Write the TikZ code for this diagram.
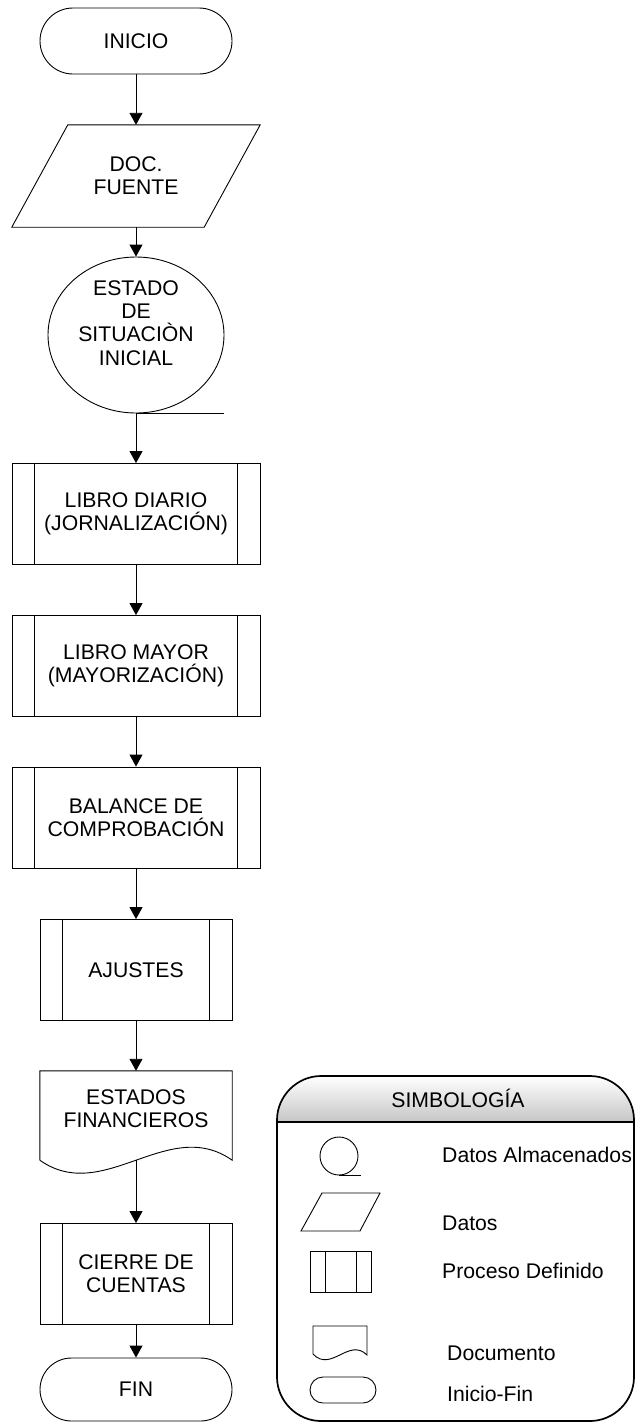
\documentclass[tikz,border=0pt]{standalone}
\usepackage{fontspec}
\setmainfont{Liberation Sans}
\usetikzlibrary{arrows.meta,shapes.geometric,shapes.misc}
\newcommand\procbars[2]{%
  \draw[ln] ([xshift=#2]#1.north west) -- ([xshift=#2]#1.south west);
  \draw[ln] ([xshift=-#2]#1.north east) -- ([xshift=-#2]#1.south east);}
\begin{document}
\begin{tikzpicture}[x=1pt,y=-1pt,
  every node/.style={font=\fontsize{21.2}{23.3}\selectfont, align=center, inner sep=0pt},
  ln/.style={line width=0.9pt},
  arr/.style={ln, -{Triangle[width=13pt,length=12pt]}},
  term/.style={ln, draw, rounded rectangle, minimum width=192pt, minimum height=66pt},
  area/.style={minimum width=#1},
  proc/.style={ln, draw, rectangle, minimum width=#1, minimum height=101pt},
  legtext/.style={anchor=west}
]
\useasboundingbox (0,0) rectangle (635,1422);

% ---- flow ----
\node[term] (inicio) at (136,41) {INICIO};

\node[area=248pt, minimum height=102pt] (doc) at (136,176) {DOC.\\FUENTE};
\draw[ln] (doc.south west) -- ([xshift=56pt]doc.north west) -- (doc.north east)
  -- ([xshift=-56pt]doc.south east) -- cycle;

\node[ln, draw, ellipse, minimum width=176pt, minimum height=156pt] (sit) at (136,335) {};
\node (sittext) at (136,323) {ESTADO\\DE\\SITUACIÒN\\INICIAL};
\coordinate (sittail) at ([xshift=88pt]sit.south);
\draw[ln] (sit.south) -- (sittail);

\node[proc=248pt] (diario) at (136,514) {LIBRO DIARIO\\(JORNALIZACIÓN)};
\procbars{diario}{23pt}
\node[proc=248pt] (mayor) at (136,666) {LIBRO MAYOR\\(MAYORIZACIÓN)};
\procbars{mayor}{23pt}
\node[proc=248pt] (balance) at (136,817.5) {BALANCE DE\\COMPROBACIÓN};
\procbars{balance}{23pt}
\node[proc=192pt] (ajustes) at (136,970) {AJUSTES};
\procbars{ajustes}{23pt}

\node[area=192pt, minimum height=76pt] (estados) at (136,1109) {ESTADOS\\FINANCIEROS};
\coordinate (estb) at ([yshift=-13pt]estados.south);
\draw[ln] ([yshift=-13pt]estados.south west) -- (estados.north west) -- (estados.north east)
  -- ([yshift=-13pt]estados.south east)
  .. controls +(-64,-45) and +(64,45) .. ([yshift=-13pt]estados.south west);

\node[proc=192pt] (cierre) at (136,1274) {CIERRE DE\\CUENTAS};
\procbars{cierre}{23pt}

\node[term, minimum height=63pt] (fin) at (136,1389.5) {FIN};

\draw[arr] (inicio.south) -- (doc.north);
\draw[arr] (doc.south) -- (sit.north);
\draw[arr] (sit.south) -- (diario.north);
\draw[arr] (diario.south) -- (mayor.north);
\draw[arr] (mayor.south) -- (balance.north);
\draw[arr] (balance.south) -- (ajustes.north);
\draw[arr] (ajustes.south) -- (estados.north);
\draw[arr] (estb) -- (cierre.north);
\draw[arr] (cierre.south) -- (fin.north);

% ---- legend ----
\shade[top color=white, bottom color=gray!45]
  (277,1122) -- (277,1120) .. controls (277,1096) and (297,1076) .. (321,1076)
  -- (590,1076) .. controls (614,1076) and (634,1096) .. (634,1120) -- (634,1122) -- cycle;
\draw[line width=1.5pt] (277,1122) -- (634,1122);
\draw[line width=1.7pt]
  (277,1120) .. controls (277,1096) and (297,1076) .. (321,1076)
  -- (590,1076) .. controls (614,1076) and (634,1096) .. (634,1120)
  -- (634,1377) .. controls (634,1401) and (614,1421) .. (590,1421)
  -- (321,1421) .. controls (297,1421) and (277,1401) .. (277,1377) -- cycle;
\node (simb) at (458,1098) {SIMBOLOGÍA};

\draw[ln] (339,1156) circle[radius=19pt];
\draw[ln] (339,1175) -- (361,1175);
\node[legtext] (lg1) at (442,1155) {Datos Almacenados};

\draw[ln] (301,1231) -- (322,1193) -- (380,1193) -- (360,1231) -- cycle;
\node[legtext] (lg2) at (442,1223) {Datos};

\draw[ln] (310,1251) rectangle (371,1292);
\draw[ln] (325,1251) -- (325,1292);
\draw[ln] (356,1251) -- (356,1292);
\node[legtext] (lg3) at (442,1271) {Proceso Definido};

\draw[ln] (313,1354) -- (313,1326) -- (367,1326) -- (367,1355)
  .. controls (349,1337) and (331,1373) .. (313,1354);
\node[legtext] (lg4) at (447,1353) {Documento};

\draw[ln, rounded corners=13pt] (310,1377) rectangle (376,1403);
\node[legtext] (lg5) at (447,1394) {Inicio-Fin};
\end{tikzpicture}
\end{document}
